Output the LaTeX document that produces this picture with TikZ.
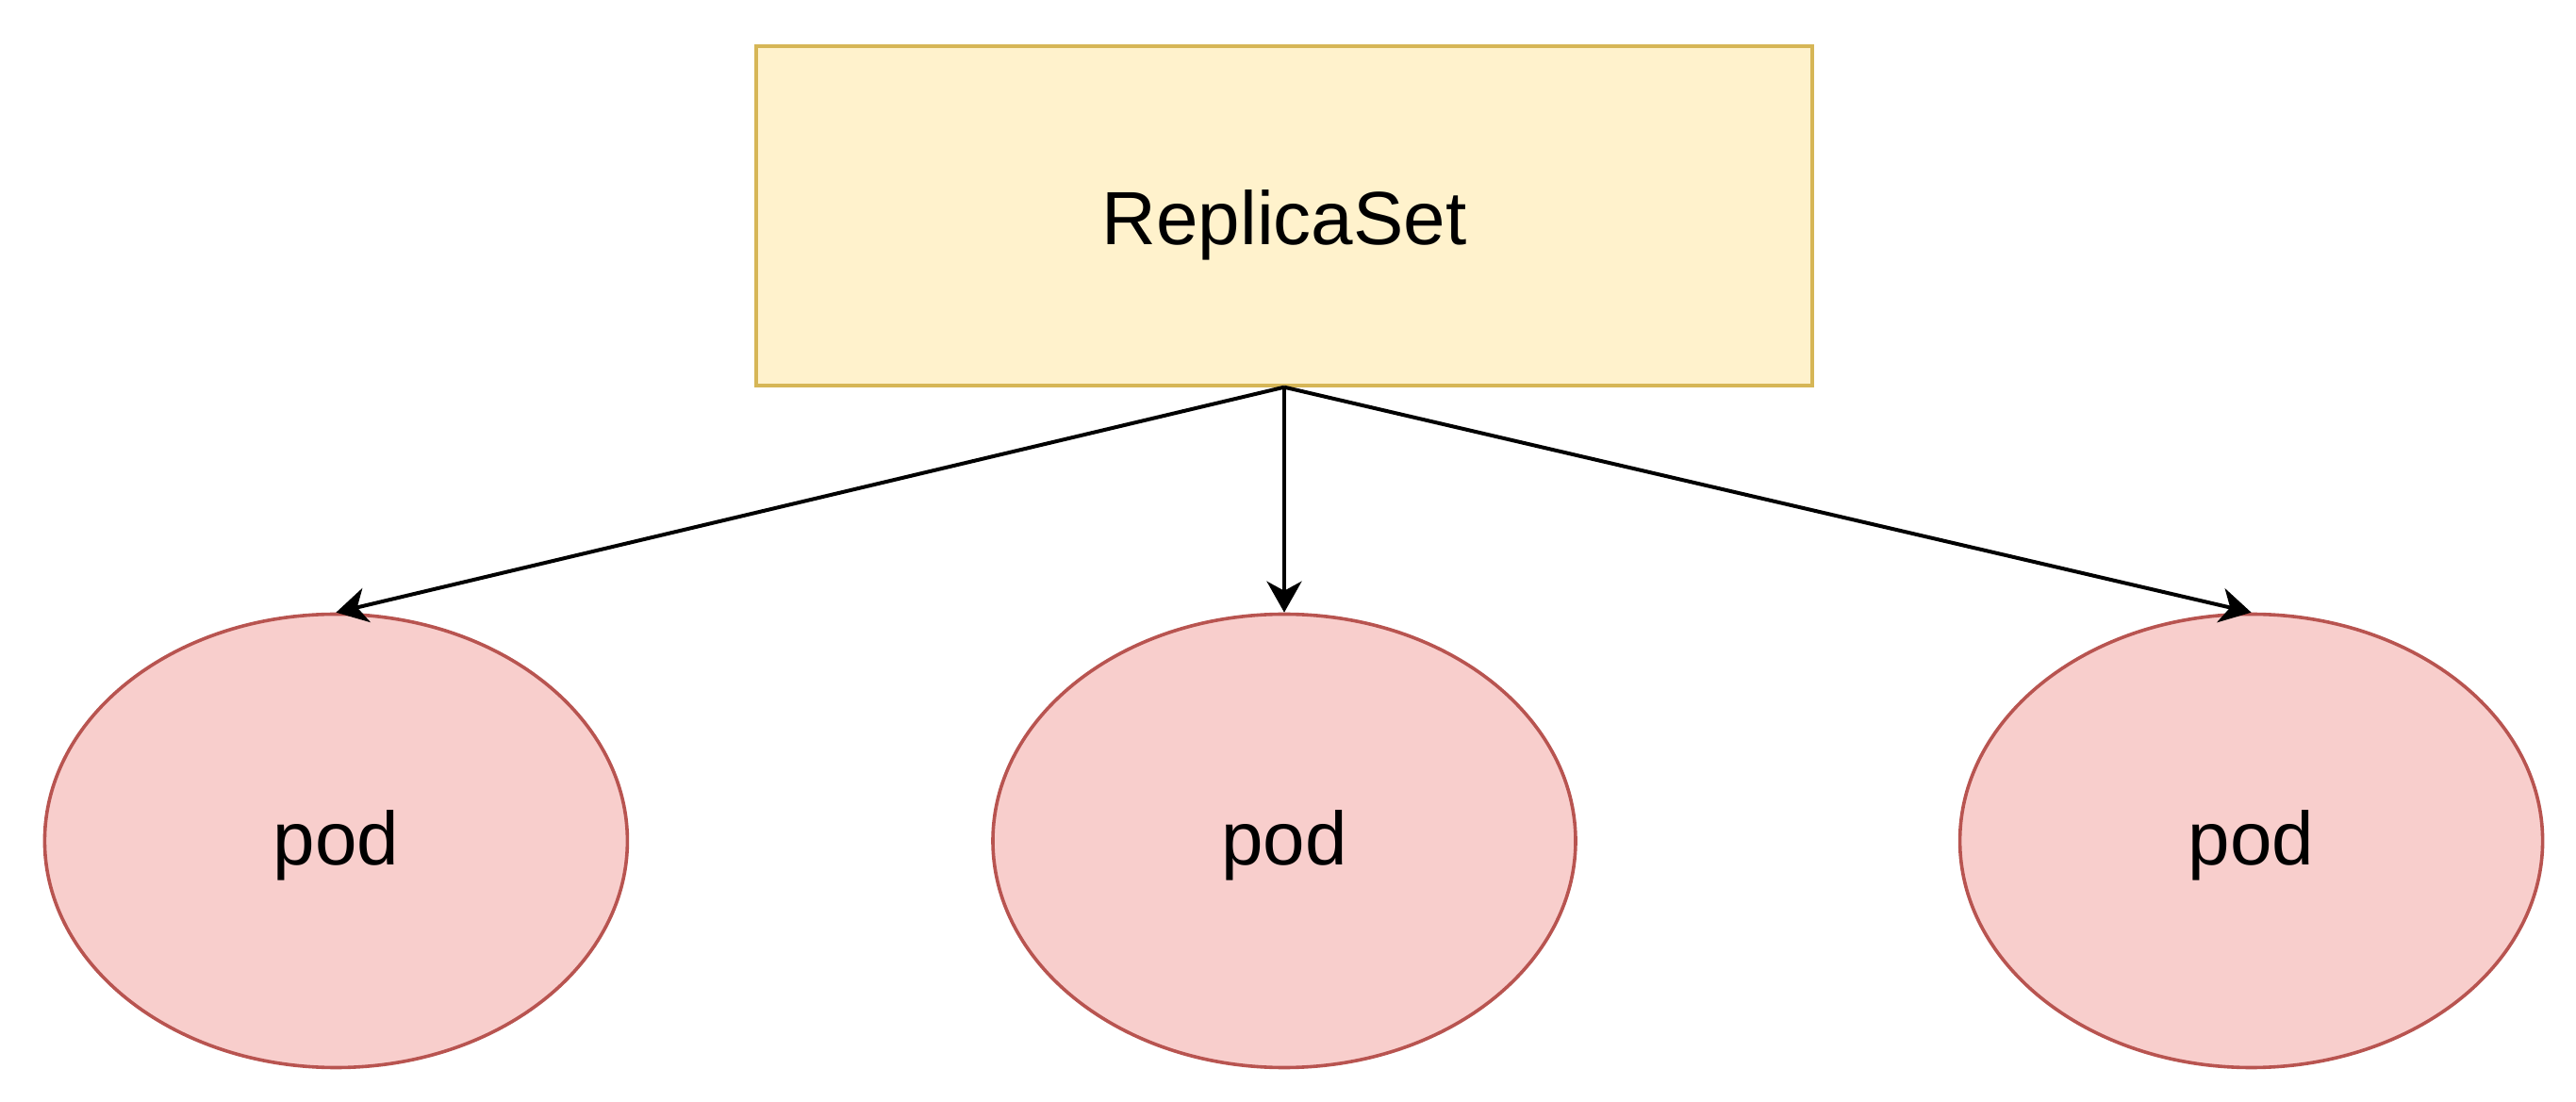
\documentclass[tikz,border=0pt]{standalone}
\usepackage{fontspec}
\setmainfont{Liberation Sans}
\usetikzlibrary{arrows.meta,positioning,shapes.geometric}

\definecolor{rsfill}{HTML}{FFF2CC}
\definecolor{rsline}{HTML}{D6B656}
\definecolor{podfill}{HTML}{F8CECC}
\definecolor{podline}{HTML}{B85450}

\tikzset{
  rsbox/.style={draw=rsline, fill=rsfill, line width=0.85pt, minimum width=280pt, minimum height=90pt, text height=15.5pt, text depth=0pt, font=\fontsize{20pt}{24pt}\selectfont},
  pod/.style={ellipse, draw=podline, fill=podfill, line width=0.9pt, minimum width=154.5pt, minimum height=120.25pt, inner sep=0pt, text height=13pt, text depth=0pt, font=\fontsize{20pt}{24pt}\selectfont},
  owns/.style={-{Stealth[length=8.25pt,width=9.25pt,inset=2.5pt]}, line width=1pt}
}

\begin{document}
\begin{tikzpicture}
\useasboundingbox (0pt,0pt) rectangle (683pt,292pt);
\node[rsbox] (rs) at (340.5pt,234.75pt) {ReplicaSet};
\node[pod] (pod_2) [below = 59.75pt of rs] {pod};
\node[pod] (pod_1) [left = 96pt of pod_2] {pod};
\node[pod] (pod_3) [right = 101pt of pod_2] {pod};

\draw[owns] (rs.south) -- (pod_1.north);
\draw[owns] (rs.south) -- (pod_2.north);
\draw[owns] (rs.south) -- (pod_3.north);
\end{tikzpicture}
\end{document}
